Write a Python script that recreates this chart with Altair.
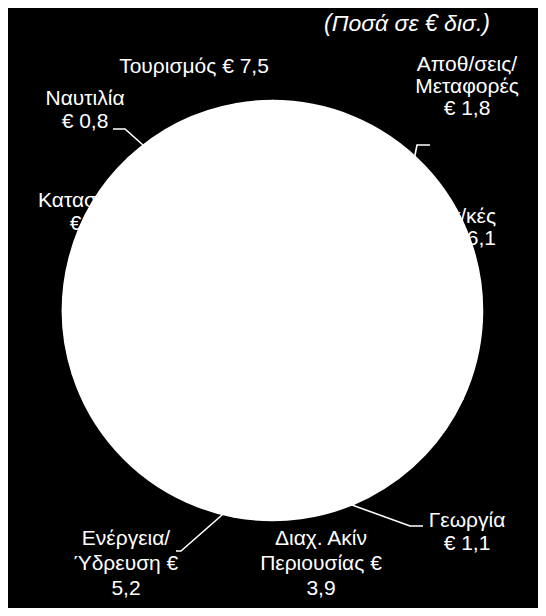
import altair as alt
import pandas as pd

# ---- data ----
categories = ["Τουρισμός", "Αποθ/σεις/Μεταφορές", "Χρηματ/κές", "Γεωργία",
              "Διαχ. Ακίν Περιουσίας", "Ενέργεια/Ύδρευση", "Κατασκευές", "Ναυτιλία"]
values = [7.5, 1.8, 6.1, 1.1, 3.9, 5.2, 2.7, 0.8]
label_lines = [
    ["Τουρισμός € {v}"],
    ["Αποθ/σεις/", "Μεταφορές", "€ {v}"],
    ["Χρηματ/κές", "€ {v}"],
    ["Γεωργία", "€ {v}"],
    ["Διαχ. Ακίν", "Περιουσίας €", "{v}"],
    ["Ενέργεια/", "Ύδρευση €", "{v}"],
    ["Κατασκευές", "€ {v}"],
    ["Ναυτιλία", "€ {v}"],
]
title_text = "(Ποσά σε € δισ.)"

# label placement (page pixel frame)
label_x = [194, 467, 496, 467, 321, 126, 93, 85]
label_y = [73, 71, 223, 527, 545, 545, 207, 105]
line_gap = [0, 22, 22, 23, 25, 25, 23, 23]
label_align = ["center", "center", "right", "center", "center", "center", "center", "center"]

# leader lines (page pixel frame)
leader_cat = ["Ναυτιλία"] * 4 + ["Αποθ/σεις/Μεταφορές"] * 4 + ["Γεωργία"] * 4 + ["Ενέργεια/Ύδρευση"] * 4
leader_x = [113, 125, 143, 170, 430, 417, 415, 411, 423, 410, 352, 330, 176, 181, 222, 235]
leader_y = [129, 129, 145, 169, 145, 145, 155, 175, 526, 526, 505, 497, 551, 551, 515, 500]
leader_seq = [0, 1, 2, 3] * 4

FONT = "Liberation Sans"

# ---- tables ----
pie_df = pd.DataFrame({"cat": categories, "val": values, "idx": list(range(len(values)))})

rows = []
for c, v, lines, x0, y0, gap, al in zip(categories, values, label_lines, label_x, label_y, line_gap, label_align):
    vs = f"{v:.1f}".replace(".", ",")
    for i, ln in enumerate(lines):
        rows.append({"cat": c, "text": ln.format(v=vs), "x": x0, "y": y0 + i * gap, "align": al})
lab_df = pd.DataFrame(rows)

lead_df = pd.DataFrame({"cat": leader_cat, "x": leader_x, "y": leader_y, "seq": leader_seq})
title_df = pd.DataFrame({"text": [title_text], "x": [407], "y": [31]})

xs = alt.Scale(domain=[8, 538], nice=False, zero=False)
ys = alt.Scale(domain=[8, 608], nice=False, zero=False, reverse=True)

def X():
    return alt.X("x:Q", scale=xs, axis=None)

def Y():
    return alt.Y("y:Q", scale=ys, axis=None)

txt_center = alt.Chart(lab_df).transform_filter(alt.datum.align == "center").mark_text(
    font=FONT, fontSize=21, color="white", align="center", baseline="alphabetic"
).encode(x=X(), y=Y(), text="text:N")

txt_right = alt.Chart(lab_df).transform_filter(alt.datum.align == "right").mark_text(
    font=FONT, fontSize=21, color="white", align="right", baseline="alphabetic"
).encode(x=X(), y=Y(), text="text:N")

title = alt.Chart(title_df).mark_text(
    font=FONT, fontSize=23, fontStyle="italic", color="white", align="center", baseline="alphabetic"
).encode(x=X(), y=Y(), text="text:N")

leaders = alt.Chart(lead_df).mark_line(color="white", strokeWidth=1.6).encode(
    x=X(), y=Y(), detail="cat:N", order="seq:Q"
)

pie = alt.Chart(pie_df).mark_arc(
    radius=209.5, color="white", stroke="white", strokeWidth=2.5, strokeJoin="round"
).encode(
    theta=alt.Theta("val:Q", stack=True),
    order=alt.Order("idx:Q"),
    x=alt.value(264.5),
    y=alt.value(302.5),
)

chart = alt.layer(txt_center, txt_right, leaders, pie, title).properties(
    width=530, height=600, padding=0,
    autosize=alt.AutoSizeParams(type="fit", contains="padding"),
).configure(background="black").configure_view(stroke=None)

chart.save("out.html", embed_options={"renderer": "svg", "actions": False})
